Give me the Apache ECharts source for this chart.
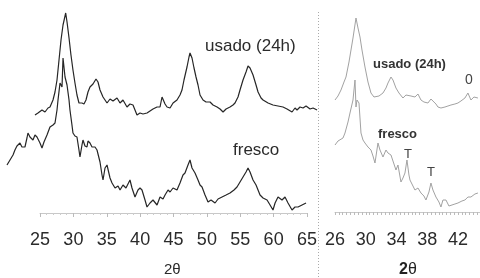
<!DOCTYPE html>
<html><head><meta charset="utf-8">
<script src="https://cdn.jsdelivr.net/npm/echarts@6/dist/echarts.min.js"></script>
<style>html,body{margin:0;padding:0;background:#fff}#c{width:480px;height:278px}</style>
</head><body><div id="c"></div>
<script>
// Left panel (2θ 20..67), intensity in arbitrary units
const usadoL_x = [24.25,24.70,25.30,25.75,26.20,26.50,26.95,27.25,27.55,27.85,28.15,28.45,28.85,29.05,29.35,29.64,29.94,30.24,30.54,30.84,30.99,31.29,31.59,31.89,32.19,32.49,32.94,33.39,33.69,33.99,34.44,34.74,35.04,35.49,35.94,36.54,36.99,37.43,38.03,38.48,38.93,39.23,39.53,39.98,40.43,41.03,41.48,41.93,42.53,42.98,43.28,43.73,44.03,44.48,44.93,45.52,45.97,46.27,46.57,47.02,47.32,47.47,47.77,48.07,48.37,48.67,48.97,49.42,49.87,50.47,50.92,51.52,51.97,52.42,52.87,53.46,53.91,54.21,54.66,54.96,55.41,55.86,56.16,56.46,56.91,57.36,57.66,58.11,58.41,59.16,59.90,60.65,61.40,62.00,62.75,63.20,63.50,63.95,64.40,64.85,65.45,65.90,66.50];
const usadoL_y = [135,137,140,138,142,143,150,158,170,190,210,225,237,228,212,195,180,167,155,147,145,147,146,150,158,163,166,171,168,160,153,150,147,151,149,152,147,150,143,146,145,140,135,137,136,137,139,141,143,143,153,146,143,142,147,150,155,160,170,183,193,197,192,182,173,165,155,150,148,148,145,143,141,138,141,143,145,147,153,160,170,178,184,182,175,165,158,152,150,147,145,144,143,141,138,142,140,143,142,144,141,142,140];
const frescoL_x = [20.06,20.51,20.96,21.25,21.55,22.00,22.30,22.75,23.05,23.20,23.50,23.95,24.25,24.55,25.00,25.30,25.60,25.75,26.05,26.50,26.95,27.25,27.55,27.70,28.00,28.30,28.45,28.75,29.05,29.35,29.49,29.79,29.94,30.24,30.54,30.84,30.99,31.29,31.44,31.74,32.04,32.19,32.49,32.79,33.24,33.54,33.99,34.29,34.44,34.74,35.04,35.19,35.49,35.79,36.24,36.69,36.99,37.43,37.88,38.48,38.78,39.23,39.68,39.98,40.28,40.73,41.03,41.48,41.93,42.53,42.98,43.43,43.73,44.18,44.48,44.93,45.52,45.97,46.42,46.72,47.17,47.47,47.77,48.22,48.67,48.97,49.27,49.72,50.17,50.62,51.22,51.67,52.27,52.87,53.46,54.06,54.51,54.96,55.41,55.86,56.16,56.46,56.91,57.36,57.96,58.41,59.01,59.46,59.90,60.21,60.65,61.25,61.70,62.15,62.75,63.20,63.65,64.25,64.85];
const frescoL_y = [85,90,95,100,104,107,103,103,112,117,113,110,115,113,107,102,108,110,115,123,125,127,140,150,167,163,192,173,165,150,140,125,117,114,113,100,93,105,110,104,103,109,107,103,103,100,88,75,70,82,85,87,72,67,62,64,60,65,62,70,62,53,60,62,60,50,43,47,50,45,53,51,55,60,58,62,60,67,75,77,85,90,82,77,70,65,63,55,48,50,47,51,53,55,57,60,63,68,73,78,82,78,70,65,55,52,50,45,40,47,53,50,53,47,40,43,43,45,47];
// Right panel (2θ 26..44.86)
const usadoR_x = [26.00,26.39,26.78,27.17,27.43,27.82,28.08,28.34,28.73,28.99,29.25,29.51,29.90,30.29,30.68,31.07,31.33,31.72,32.24,32.63,32.89,33.28,33.54,33.93,34.32,34.84,35.23,35.49,35.88,36.40,36.79,37.18,37.57,38.09,38.48,38.74,39.13,39.39,39.78,40.30,40.69,41.08,41.60,41.99,42.38,42.90,43.29,43.68,44.07,44.59];
const usadoR_y = [150,154,160,168,173,188,200,212,232,222,213,200,183,168,157,153,152,154,157,162,167,173,170,162,157,152,155,157,154,153,156,150,148,147,151,152,146,143,142,143,144,145,146,147,149,152,157,150,153,152];
const frescoR_x = [26.00,26.39,26.65,27.04,27.30,27.69,27.95,28.34,28.47,28.60,28.73,28.86,29.12,29.38,29.64,29.90,30.29,30.68,30.94,31.20,31.59,31.85,32.24,32.63,32.89,33.28,33.54,33.93,34.19,34.58,34.84,35.10,35.36,35.62,35.75,36.14,36.40,36.79,37.18,37.57,37.83,38.22,38.48,38.74,39.13,39.52,39.78,40.04,40.43,40.82,41.08,41.60,41.99,42.51,42.90,43.29,43.68,44.20,44.59];
const frescoR_y = [105,109,107,112,117,128,137,150,160,170,143,150,147,117,110,107,103,100,94,87,107,100,93,100,97,95,93,80,85,68,72,77,90,75,70,64,60,62,57,54,50,58,67,60,53,48,43,50,50,44,42,46,47,49,50,53,53,56,57];
const ticksL = [25,30,35,40,45,50,55,60,65];
const ticksR = [26,30,34,38,42];

const FONT = '"Liberation Sans", Arial, sans-serif';
const pair = (xs, ys) => xs.map((v, i) => [v, ys[i]]);
const minorR = [];
for (let v = 26; v <= 44.5; v += 0.5) minorR.push(v);

const chart = echarts.init(document.getElementById('c'), null, {renderer: 'canvas'});
const hiddenY = (gi) => ({gridIndex: gi, type: 'value', min: 0, max: 250, show: false});
chart.setOption({
  animation: false,
  backgroundColor: '#fff',
  grid: [
    {left: 6.6, top: 0, width: 313.8, height: 250},
    {left: 40, top: 0, width: 267, height: 213},
    {left: 335, top: 0, width: 145, height: 250},
    {left: 335, top: 0, width: 145, height: 212}
  ],
  xAxis: [
    {gridIndex: 0, type: 'value', min: 20, max: 67, show: false},
    {gridIndex: 1, type: 'value', min: 25, max: 65, interval: 5,
      axisLine: {lineStyle: {color: '#c8c8c8', width: 1}},
      axisTick: {show: true, length: 4, lineStyle: {color: '#bbb'}},
      minorTick: {show: true, splitNumber: 5, length: 2, lineStyle: {color: '#ccc'}},
      splitLine: {show: false},
      axisLabel: {fontFamily: FONT, fontSize: 18, color: '#2b2b2b', margin: 18, customValues: ticksL}},
    {gridIndex: 2, type: 'value', min: 26, max: 44.86, show: false},
    {gridIndex: 3, type: 'value', min: 26, max: 44.86,
      axisLine: {lineStyle: {color: '#c8c8c8', width: 1}},
      axisTick: {show: true, length: 3, customValues: minorR, lineStyle: {color: '#bbb'}},
      splitLine: {show: false},
      axisLabel: {fontFamily: FONT, fontSize: 18, color: '#2b2b2b', margin: 19, customValues: ticksR, hideOverlap: false}}
  ],
  yAxis: [hiddenY(0), hiddenY(1), hiddenY(2), hiddenY(3)],
  series: [
    {type: 'line', xAxisIndex: 0, yAxisIndex: 0, data: pair(usadoL_x, usadoL_y), symbol: 'none', lineStyle: {color: '#262626', width: 1.2}},
    {type: 'line', xAxisIndex: 0, yAxisIndex: 0, data: pair(frescoL_x, frescoL_y), symbol: 'none', lineStyle: {color: '#262626', width: 1.2}},
    {type: 'line', xAxisIndex: 2, yAxisIndex: 2, data: pair(usadoR_x, usadoR_y), symbol: 'none', lineStyle: {color: '#a2a2a2', width: 1}},
    {type: 'line', xAxisIndex: 2, yAxisIndex: 2, data: pair(frescoR_x, frescoR_y), symbol: 'none', lineStyle: {color: '#a2a2a2', width: 1}}
  ],
  graphic: [
    {type: 'line', shape: {x1: 318.5, y1: 12, x2: 318.5, y2: 278}, style: {stroke: '#aaa', lineWidth: 1, lineDash: [1, 2]}},
    {type: 'text', left: 205, top: 38, style: {text: 'usado (24h)', font: '17px ' + FONT, fill: '#2b2b2b'}},
    {type: 'text', left: 233, top: 142, style: {text: 'fresco', font: '17px ' + FONT, fill: '#2b2b2b'}},
    {type: 'text', left: 164, top: 262, style: {text: '2θ', font: '15px ' + FONT, fill: '#2b2b2b'}},
    {type: 'text', left: 373, top: 58, style: {text: 'usado (24h)', font: 'bold 13px ' + FONT, fill: '#333'}},
    {type: 'text', left: 378, top: 128, style: {text: 'fresco', font: 'bold 13px ' + FONT, fill: '#333'}},
    {type: 'text', left: 465, top: 73, style: {text: '0', font: '14px ' + FONT, fill: '#444'}},
    {type: 'text', left: 404, top: 148, style: {text: 'T', font: '13px ' + FONT, fill: '#444'}},
    {type: 'text', left: 427, top: 166, style: {text: 'T', font: '13px ' + FONT, fill: '#444'}},
    {type: 'text', left: 399, top: 262, style: {text: '{b|2}{n|θ}', rich: {b: {font: 'bold 16px ' + FONT, fill: '#222'}, n: {font: '16px ' + FONT, fill: '#222'}}}}
  ]
});
</script></body></html>
